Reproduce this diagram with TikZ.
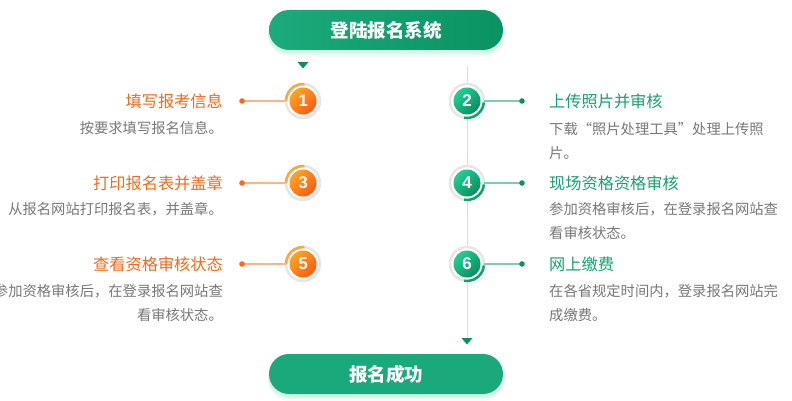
\documentclass[tikz,border=0pt]{standalone}
\usepackage{fontspec}
\setmainfont{Noto Sans CJK SC}
\newfontfamily\numfont{Liberation Sans}
\newcommand{\fwq}[1]{{\addfontfeature{CharacterWidth=Full}#1}}
\usetikzlibrary{calc}
\definecolor{pillA}{HTML}{1BAB7C}
\definecolor{pillB}{HTML}{0A9262}
\definecolor{pillC}{HTML}{19A97A}
\definecolor{shadowg}{HTML}{9FE3C8}
\definecolor{ringgray}{HTML}{E6E6E6}
\definecolor{orA}{HTML}{FFA323}
\definecolor{orB}{HTML}{FF5A14}
\definecolor{orArc}{HTML}{FFA53A}
\definecolor{orLine}{HTML}{FFB583}
\definecolor{orDot}{HTML}{FF6A1A}
\definecolor{orText}{HTML}{F06A1E}
\definecolor{grA}{HTML}{22CF95}
\definecolor{grB}{HTML}{0A8D5E}
\definecolor{grArc}{HTML}{13A06D}
\definecolor{grLine}{HTML}{7FCCAF}
\definecolor{grDot}{HTML}{0D915F}
\definecolor{grText}{HTML}{17A070}
\definecolor{descgray}{HTML}{777777}
\definecolor{vline}{HTML}{DDDDDD}
\definecolor{tri}{HTML}{0E8F60}
\begin{document}
\begin{tikzpicture}[x=1pt,y=-1pt,
  pill/.style={rectangle, rounded corners=20pt, minimum width=234pt, minimum height=40pt,
    inner sep=0pt, outer sep=0pt, text=white, font=\fontsize{18.5}{18.5}\selectfont\bfseries},
  ring/.style={circle, minimum size=34pt, inner sep=0pt, outer sep=0pt, draw=ringgray,
    line width=2.5pt, fill=white},
  odisk/.style={circle, minimum size=27pt, inner sep=0pt, outer sep=0pt,
    top color=orA, bottom color=orB, shading angle=45, text=white,
    font=\numfont\fontsize{17}{17}\selectfont\bfseries},
  gdisk/.style={circle, minimum size=27pt, inner sep=0pt, outer sep=0pt,
    top color=grA, bottom color=grB, shading angle=45, text=white,
    font=\numfont\fontsize{17}{17}\selectfont\bfseries},
  oarc/.style={draw=orArc, line width=2.5pt},
  garc/.style={draw=grArc, line width=2.5pt},
  oline/.style={draw=orLine, line width=1.5pt},
  gline/.style={draw=grLine, line width=1.5pt},
  odot/.style={fill=orDot},
  gdot/.style={fill=grDot},
  otitle/.style={inner sep=0pt, text=orText, font=\fontsize{16.2}{16.2}\selectfont},
  gtitle/.style={inner sep=0pt, text=grText, font=\fontsize{16.2}{16.2}\selectfont},
  desc/.style={inner sep=0pt, text=descgray, font=\fontsize{14.3}{24}\selectfont},
]
\useasboundingbox (0,0) rectangle (792,401);

% shadows of the pills
\foreach \s/\o in {6/0.10,4/0.15,2.5/0.22}{
  \fill[shadowg, opacity=\o, rounded corners=21pt] (268,12+\s) rectangle (504,51+\s);
  \fill[shadowg, opacity=\o, rounded corners=21pt] (268,356+\s) rectangle (504,395+\s);
}
\node[pill, left color=pillA, right color=pillB] (start) at (386,30) {登陆报名系统};
\node[pill, fill=pillC] (finish) at (386,374) {报名成功};

% top marker
\coordinate (m1) at (303,65);
\fill[tri] ($(m1)+(-5.5,-3)$) -- ($(m1)+(5.5,-3)$) -- ($(m1)+(0,3.5)$) -- cycle;

% vertical line and bottom marker
\coordinate (vtop) at (467,66);
\coordinate (vbot) at (467,338);
\draw[vline, line width=1pt] (vtop) -- (vbot);
\fill[tri] ($(vbot)+(-5.5,0)$) -- ($(vbot)+(5.5,0)$) -- ($(vbot)+(0,6.5)$) -- cycle;

% left steps
\foreach \n/\y in {1/101,3/183,5/264}{
  \node[ring] (c\n) at (303,\y) {};
  \draw[oarc] (c\n.180) arc[start angle=180, end angle=275, radius=17];
  \node[odisk] (n\n) at (c\n.center) {\n};
  \coordinate (d\n) at (242,\y);
  \draw[oline] (d\n) -- (c\n.west);
  \fill[odot] (d\n) circle[radius=2.8pt];
}
% right steps
\foreach \n/\y in {2/101,4/183,6/264}{
  \node[ring] (c\n) at (467,\y) {};
  \draw[garc] (c\n.-5) arc[start angle=5, end angle=100, radius=17];
  \node[gdisk] (n\n) at (c\n.center) {\n};
  \coordinate (d\n) at (522,\y);
  \draw[gline] (c\n.east) -- (d\n);
  \fill[gdot] (d\n) circle[radius=2.8pt];
}

% texts left
\node[otitle, anchor=east] (t1) at (223,101) {填写报考信息};
\node[desc, anchor=north east, align=right] (s1) at (223,121) {按要求填写报名信息。};
\node[otitle, anchor=east] (t3) at (223,183) {打印报名表并盖章};
\node[desc, anchor=north east, align=right] (s3) at (223,202) {从报名网站打印报名表，并盖章。};
\node[otitle, anchor=east] (t5) at (223,264) {查看资格审核状态};
\node[desc, anchor=north east, align=right] (s5) at (223,284) {参加资格审核后，在登录报名网站查\\看审核状态。};

% texts right
\node[gtitle, anchor=west] (t2) at (549,101) {上传照片并审核};
\node[desc, anchor=north west, align=left] (s2) at (549,122) {下载\fwq{“}照片处理工具\fwq{”}处理上传照\\片。};
\node[gtitle, anchor=west] (t4) at (549,183) {现场资格资格审核};
\node[desc, anchor=north west, align=left] (s4) at (549,202) {参加资格审核后，在登录报名网站查\\看审核状态。};
\node[gtitle, anchor=west] (t6) at (549,264) {网上缴费};
\node[desc, anchor=north west, align=left] (s6) at (549,284) {在各省规定时间内，登录报名网站完\\成缴费。};
\end{tikzpicture}
\end{document}
